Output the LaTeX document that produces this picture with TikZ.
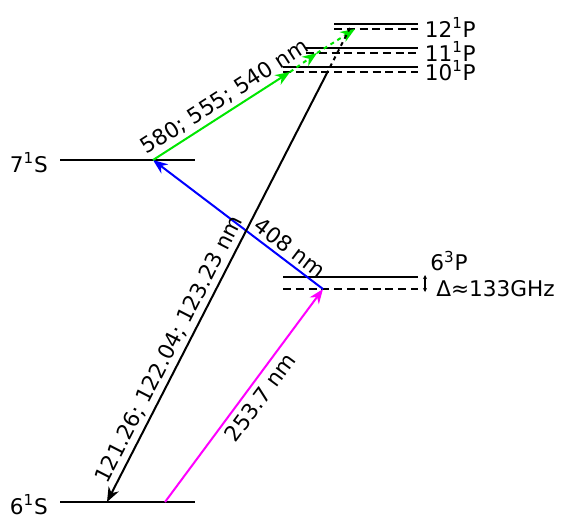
\documentclass[tikz,border=0pt]{standalone}
\usepackage{fontspec}
\setmainfont{DejaVu Sans}
\usetikzlibrary{arrows.meta}

\definecolor{mag}{RGB}{255,0,255}
\definecolor{grn}{RGB}{0,230,0}

\tikzset{
  level/.style={line width=1.5pt},
  virtual/.style={line width=1.5pt, dash pattern=on 6pt off 3.6pt},
  trans/.style={line width=1.5pt, -{Stealth[length=11pt,width=8.5pt,inset=3.5pt]}},
  tlabel/.style={sloped, inner sep=3pt},
  lvlL/.style={anchor=east, inner sep=0pt, xshift=-9pt},
  lvlR/.style={anchor=west, inner sep=0pt, xshift=5pt},
}

\begin{document}
\begin{tikzpicture}[x=0.75pt, y=-0.75pt, font=\fontsize{16.2}{19}\selectfont]
\useasboundingbox (0,0) rectangle (563,519);

% Niveles S
\coordinate (S6a) at (60,502);  \coordinate (S6b) at (195,502);
\coordinate (S7a) at (60,160);  \coordinate (S7b) at (195,160);
\draw[level] (S6a) -- (S6b);
\draw[level] (S7a) -- (S7b);
\node[lvlL] (S6) at ([yshift=-2pt]S6a) {6\textsuperscript{1}S};
\node[lvlL] (S7) at ([yshift=-2pt]S7a) {7\textsuperscript{1}S};

% Nivel 6^3P
\coordinate (T6a) at (283,277); \coordinate (T6b) at (418,277);
\coordinate (V6a) at (283,289); \coordinate (V6b) at (418,289);
\draw[level] (T6a) -- (T6b);
\draw[virtual] (V6a) -- (V6b);
\node[anchor=center] (T6) at (449,261) {6\textsuperscript{3}P};
\coordinate (D1) at (425,275); \coordinate (D2) at (425,292);
\draw[line width=0.8pt, {Stealth[length=3pt,width=3pt]}-{Stealth[length=3pt,width=3pt]}] (D1) -- (D2);
\node[anchor=west, inner sep=0pt] (delta) at (436,289) {Δ≈133GHz};

% Niveles P
\foreach \n/\xa/\ys/\yd in {10/283/67/72, 11/306/48/53, 12/334/24/29}{
  \draw[level] (\xa,\ys) -- (418,\ys);
  \draw[virtual] (\xa,\yd) -- (418,\yd);
  \node[lvlR] (P\n) at (418,{(\ys+\yd)/2+1}) {\n\textsuperscript{1}P};
}

% Transiciones
\coordinate (a6) at (107,502);
\coordinate (b6) at (165,502);
\coordinate (a7) at (153,160);
\coordinate (c6) at (323,289);
\coordinate (g10) at (290,72);
\coordinate (g11) at (317,53);
\coordinate (g12) at (355,29);
\coordinate (k12) at (350,28);
\coordinate (k10) at (327.5,72);

\draw[trans, mag] (b6) -- node[tlabel, below, pos=0.53, black, inner sep=4pt] (lmag) {253.7 nm} (c6);
\draw[trans, blue] (c6) -- node[tlabel, above, pos=0.24, black] (lblue) {408 nm} (a7);
\draw[trans, grn] (a7) -- node[tlabel, above, pos=0.58, black] (lgreen) {580; 555; 540 nm} (g10);
\draw[trans, grn, dashed] (g10) -- (g11);
\draw[trans, grn, dashed] (g11) -- (g12);
\draw[line width=1.5pt, dashed] (k12) -- (k10);
\draw[trans] (k10) -- node[tlabel, above, pos=0.66] (lblack) {121.26; 122.04; 123.23 nm} (a6);
\end{tikzpicture}
\end{document}
